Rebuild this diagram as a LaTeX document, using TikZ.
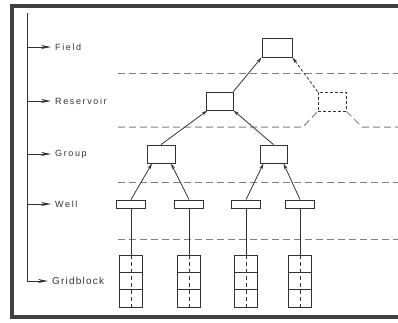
\documentclass[tikz,border=0pt]{standalone}
\usepackage{fontspec}
\usepackage{tikz}
\usetikzlibrary{arrows.meta,positioning,calc}
\newfontfamily\levelfont[LetterSpace=18]{Liberation Sans}
\newfontfamily\gridfont[LetterSpace=12]{Liberation Sans}
\definecolor{ink}{rgb}{0.2,0.2,0.2}
\definecolor{frame}{rgb}{0.25,0.25,0.25}

\tikzset{
	>={Stealth[length=6pt,width=3.2pt]},
	box/.style={draw=ink, line width=0.8pt, minimum width=28pt, minimum height=18pt, inner sep=0pt},
	wellbox/.style={box, minimum width=29pt, minimum height=8pt},
	gridbox/.style={box, minimum width=23pt, minimum height=52pt,
		path picture={
			\coordinate (nw) at (path picture bounding box.north west);
			\coordinate (ne) at (path picture bounding box.north east);
			\coordinate (sw) at (path picture bounding box.south west);
			\coordinate (se) at (path picture bounding box.south east);
			\draw[ink, line width=0.7pt] ($(nw)!1/3!(sw)$) -- ($(ne)!1/3!(se)$)
				($(nw)!2/3!(sw)$) -- ($(ne)!2/3!(se)$);
			\draw[ink, line width=0.7pt, dash pattern=on 4pt off 3pt]
				(path picture bounding box.north) -- (path picture bounding box.south);
		}},
	level/.style={draw=black!50, line width=1pt, dash pattern=on 7pt off 4pt},
	axis/.style={draw=ink, line width=0.9pt},
	lbl/.style={anchor=west, inner sep=0pt, text=black!80, font=\levelfont\fontsize{9}{10}\selectfont},
	link/.style={->, draw=ink, line width=0.8pt},
}

\begin{document}
\begin{tikzpicture}[x=1pt,y=-1pt]
	\useasboundingbox (0,0) rectangle (398,322);
	\draw[frame, line width=3.2pt] (398,6) -- (12,6) -- (12,317) -- (398,317);

	% levels on the left
	\node[lbl] (lfield) at (55,47) {Field};
	\node[lbl] (lres) at (55,101) {Reservoir};
	\node[lbl] (lgroup) at (55,154) {Group};
	\node[lbl] (lwell) at (55,204) {Well};
	\node[lbl, font=\gridfont\fontsize{10}{11}\selectfont] (lgrid) at (52,281) {Gridblock};
	\coordinate (top) at (27,13);
	\draw[axis] (top) -- (27,281);
	\foreach \l in {lfield,lres,lgroup,lwell,lgrid}
		\draw[axis, -{Stealth[length=10pt,width=4pt]}] (27,0 |- \l.west) -- ([xshift=-4pt]\l.west);

	% dashed level boundaries
	\node[box, dash pattern=on 3pt off 2pt, minimum width=28pt, minimum height=19pt] (db) at (332,101.5) {};
	\draw[level] (118,73) -- (398,73);
	\draw[level] (118,127) -- (303,127) -- (db.south west);
	\draw[level] (db.south east) -- (362,127) -- (398,127);
	\draw[level] (118,182) -- (398,182);
	\draw[level] (118,239) -- (398,239);

	% hierarchy
	\node[box, minimum width=30pt, minimum height=19pt] (field) at (277,47.5) {};
	\node[box, minimum width=27pt] (res) at (219.5,101) {};
	\node[box] (g1) at (161,154) {};
	\node[box, minimum width=27pt] (g2) at (273.5,154) {};
	\foreach \i/\x in {1/131,2/189,3/246,4/300} {
		\node[wellbox] (w\i) at (\x,204) {};
		\node[gridbox] (c\i) at (\x,281) {};
		\draw[ink, line width=0.8pt] (w\i.south) -- (c\i.north);
	}

	\draw[link] (w1.north) -- ([xshift=-9pt]g1.south);
	\draw[link] (w2.north) -- ([xshift=10pt]g1.south);
	\draw[link] (w3.north) -- ([xshift=-10pt]g2.south);
	\draw[link] (w4.north) -- ([xshift=10pt]g2.south);
	\draw[link] (g1.north) -- ([xshift=-12pt]res.south);
	\draw[link] (g2.north) -- (res.south east);
	\draw[link] (res.north east) -- (field.south west);
	\draw[link, dash pattern=on 3pt off 2pt] (db.north west) -- (field.south east);
\end{tikzpicture}
\end{document}
